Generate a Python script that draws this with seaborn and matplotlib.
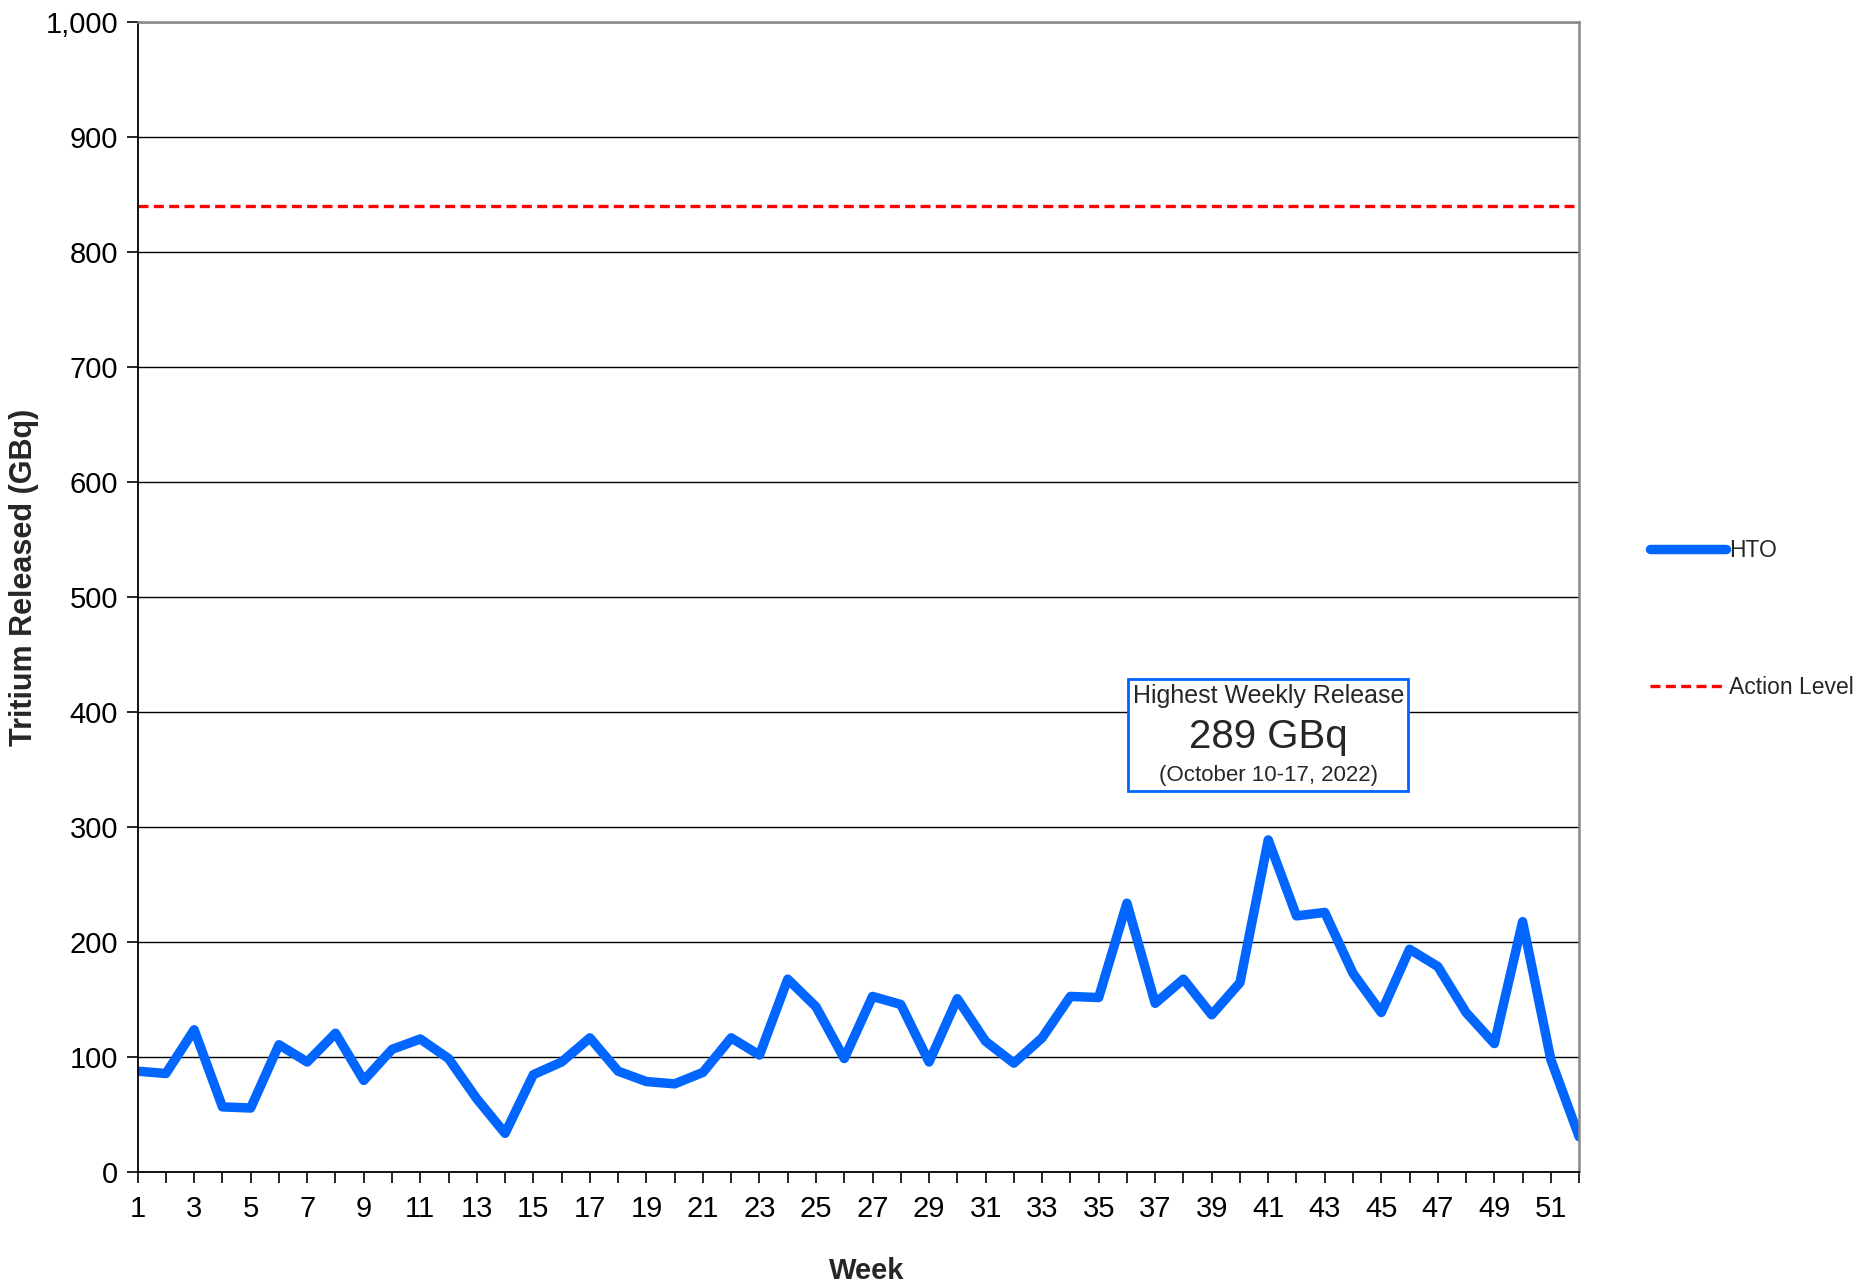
import numpy as np
import matplotlib
matplotlib.use("Agg")
from matplotlib import pyplot as plt
from matplotlib import ticker
from matplotlib.offsetbox import TextArea, VPacker, AnnotationBbox
import seaborn as sns

# weekly HTO releases (GBq)
weeks = list(range(1, 53))
hto = [88, 86, 124, 57, 56, 111, 96, 121, 80, 107,
       116, 99, 64, 34, 85, 96, 117, 88, 79, 77,
       87, 117, 102, 168, 144, 99, 153, 146, 96, 151,
       114, 95, 117, 153, 152, 234, 147, 168, 137, 165,
       289, 223, 226, 173, 139, 194, 179, 139, 112, 218,
       98, 31]
action_level = 840
y_ticks = list(range(0, 1001, 100))
x_labels = list(range(1, 52, 2))

sns.set_theme(style="white")
plt.rcParams['font.family'] = ['Liberation Sans', 'DejaVu Sans']

fig = plt.figure(figsize=(18.6, 12.87), dpi=100)
ax = fig.add_axes([0.074, 0.089, 0.775, 0.894])

sns.lineplot(x=weeks, y=hto, ax=ax, color="#0066ff", linewidth=6.8,
             label="HTO", solid_capstyle="round", solid_joinstyle="round")
ax.axhline(action_level, color="#ff0000", linestyle=(0, (3, 1.6)),
           linewidth=2.4, label="Action Level")

ax.set_xlim(1, 52)
ax.set_ylim(0, 1000)
ax.set_yticks(y_ticks)
ax.yaxis.set_major_formatter(ticker.StrMethodFormatter("{x:,.0f}"))
ax.set_xticks(x_labels)
ax.set_xticks(weeks, minor=True)
ax.grid(axis="y", color="black", linewidth=1.0)
ax.set_axisbelow(True)

ax.tick_params(axis="both", which="both", direction="out", length=8,
               width=1.2, color="black", labelsize=21, labelcolor="black",
               left=True, bottom=True)
ax.tick_params(axis="x", pad=8)
ax.tick_params(axis="y", pad=6)

for side in ["left", "bottom"]:
    ax.spines[side].set_color("black")
    ax.spines[side].set_linewidth(1.3)
for side in ["top", "right"]:
    ax.spines[side].set_color("#888888")
    ax.spines[side].set_linewidth(1.8)

ax.set_xlabel("Week", fontsize=21, fontweight="bold")
ax.xaxis.label.set_va("center")
ax.xaxis.set_label_coords(0.506, -0.086)
ax.set_ylabel("Tritium Released (GBq)", fontsize=22, fontweight="bold")
ax.yaxis.label.set_va("center")
ax.yaxis.set_label_coords(-0.079, 0.517)

# callout for the peak week
lines = VPacker(children=[
    TextArea("Highest Weekly Release", textprops=dict(fontsize=18)),
    TextArea("289 GBq", textprops=dict(fontsize=29)),
    TextArea("(October 10-17, 2022)", textprops=dict(fontsize=16)),
], align="center", pad=0, sep=7)
callout = AnnotationBbox(lines, (41, 380), xycoords="data", frameon=True,
                         box_alignment=(0.5, 0.5), pad=0.3,
                         bboxprops=dict(boxstyle="square", facecolor="white",
                                        edgecolor="#0066ff", linewidth=2))
ax.add_artist(callout)

leg = ax.legend(loc="center left", bbox_to_anchor=(1.035, 0.481),
                frameon=False, fontsize=16.5, labelspacing=5.0,
                handlelength=3.3, handletextpad=0.15)

fig.savefig("out.png", dpi=100)
